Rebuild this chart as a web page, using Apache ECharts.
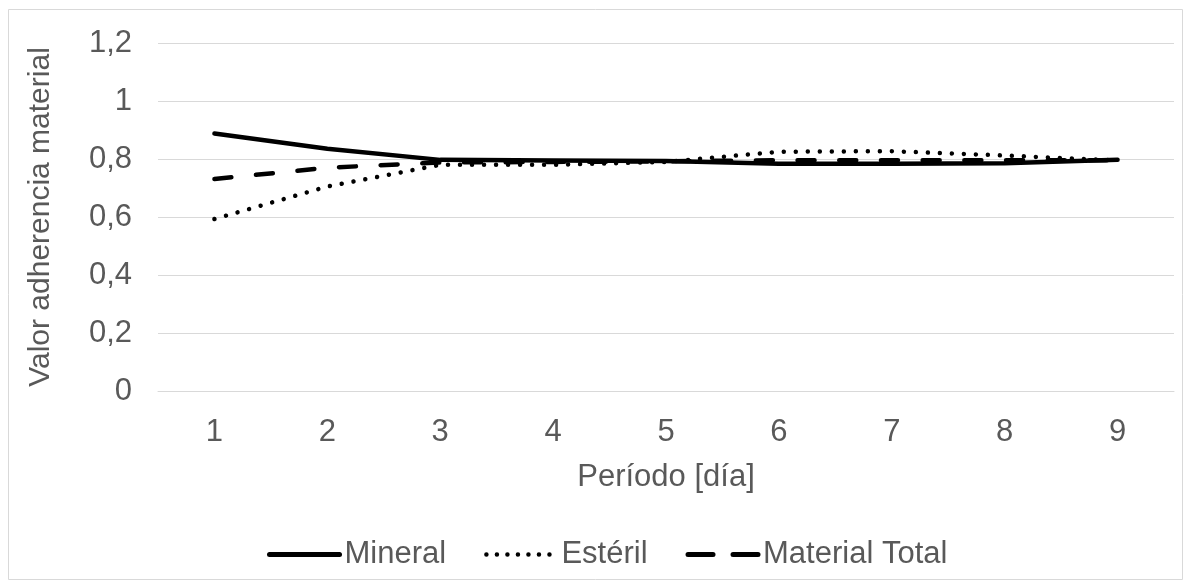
<!DOCTYPE html>
<html>
<head>
<meta charset="utf-8">
<script src="https://cdn.jsdelivr.net/npm/echarts@6/dist/echarts.min.js"></script>
<style>
  html, body { margin: 0; padding: 0; background: #fff; }
  #chart { width: 1191px; height: 587px; }
</style>
</head>
<body>
<div id="chart"></div>
<script>
// Período [día]
const periods = ['1', '2', '3', '4', '5', '6', '7', '8', '9'];
// Valor adherencia material por tipo
const mineral = [0.888, 0.835, 0.797, 0.795, 0.793, 0.784, 0.784, 0.785, 0.797];
const esteril = [0.593, 0.705, 0.780, 0.780, 0.790, 0.825, 0.827, 0.812, 0.795];
const materialTotal = [0.731, 0.770, 0.788, 0.790, 0.792, 0.796, 0.796, 0.796, 0.796];
const yTicks = [0, 0.2, 0.4, 0.6, 0.8, 1, 1.2];

const textColor = '#595959';
const font = 'Liberation Sans, Arial, sans-serif';
const fs = 31;

const chart = echarts.init(document.getElementById('chart'));
chart.setOption({
  animation: false,
  backgroundColor: '#ffffff',
  graphic: [{
    type: 'rect',
    shape: { x: 8.5, y: 9.5, width: 1174, height: 570 },
    style: { fill: 'none', stroke: '#d9d9d9', lineWidth: 1 },
    silent: true
  }],
  grid: { left: 158, right: 17, top: 43, bottom: 196, containLabel: false },
  xAxis: {
    type: 'category',
    data: periods,
    boundaryGap: true,
    name: 'Período [día]',
    nameLocation: 'middle',
    nameGap: 71,
    nameTextStyle: { color: textColor, fontSize: fs, fontFamily: font },
    axisLine: { show: true, lineStyle: { color: '#d9d9d9', width: 1 } },
    axisTick: { show: false },
    axisLabel: { color: textColor, fontSize: fs, fontFamily: font, margin: 26 }
  },
  yAxis: {
    type: 'value',
    min: 0,
    max: 1.2,
    interval: 0.2,
    name: 'Valor adherencia material',
    nameLocation: 'middle',
    nameGap: 102,
    nameTextStyle: { color: textColor, fontSize: 30, fontFamily: font },
    axisLine: { show: false },
    axisTick: { show: false },
    splitLine: { lineStyle: { color: '#d9d9d9', width: 1 } },
    axisLabel: {
      color: textColor, fontSize: fs, fontFamily: font, margin: 26,
      formatter: v => {
        const t = yTicks.find(k => Math.abs(k - v) < 1e-9);
        return String(t !== undefined ? t : v).replace('.', ',');
      }
    }
  },
  legend: {
    bottom: 12,
    left: 262,
    itemWidth: 70,
    itemHeight: 12,
    itemGap: 38,
    itemStyle: { color: 'transparent', borderWidth: 0, opacity: 0 },
    textStyle: { color: textColor, fontSize: fs, fontFamily: font },
    data: [
      { name: 'Mineral', lineStyle: { width: 5, cap: 'round' } },
      { name: 'Estéril', lineStyle: { type: [0.01, 10.5], width: 4.5, cap: 'round' } },
      { name: 'Material Total', lineStyle: { type: [25, 20], width: 5, cap: 'round' } }
    ]
  },
  series: [
    {
      name: 'Mineral',
      type: 'line',
      data: mineral,
      symbol: 'none',
      color: '#000',
      lineStyle: { color: '#000', width: 4.5, cap: 'round', join: 'round' },
      z: 3
    },
    {
      name: 'Estéril',
      type: 'line',
      data: esteril,
      symbol: 'none',
      color: '#000',
      lineStyle: { color: '#000', width: 4.5, type: [0.01, 12], cap: 'round' },
      z: 4
    },
    {
      name: 'Material Total',
      type: 'line',
      data: materialTotal,
      symbol: 'none',
      color: '#000',
      lineStyle: { color: '#000', width: 4.5, type: [17, 24.7], cap: 'round' },
      z: 2
    }
  ]
});
</script>
</body>
</html>
